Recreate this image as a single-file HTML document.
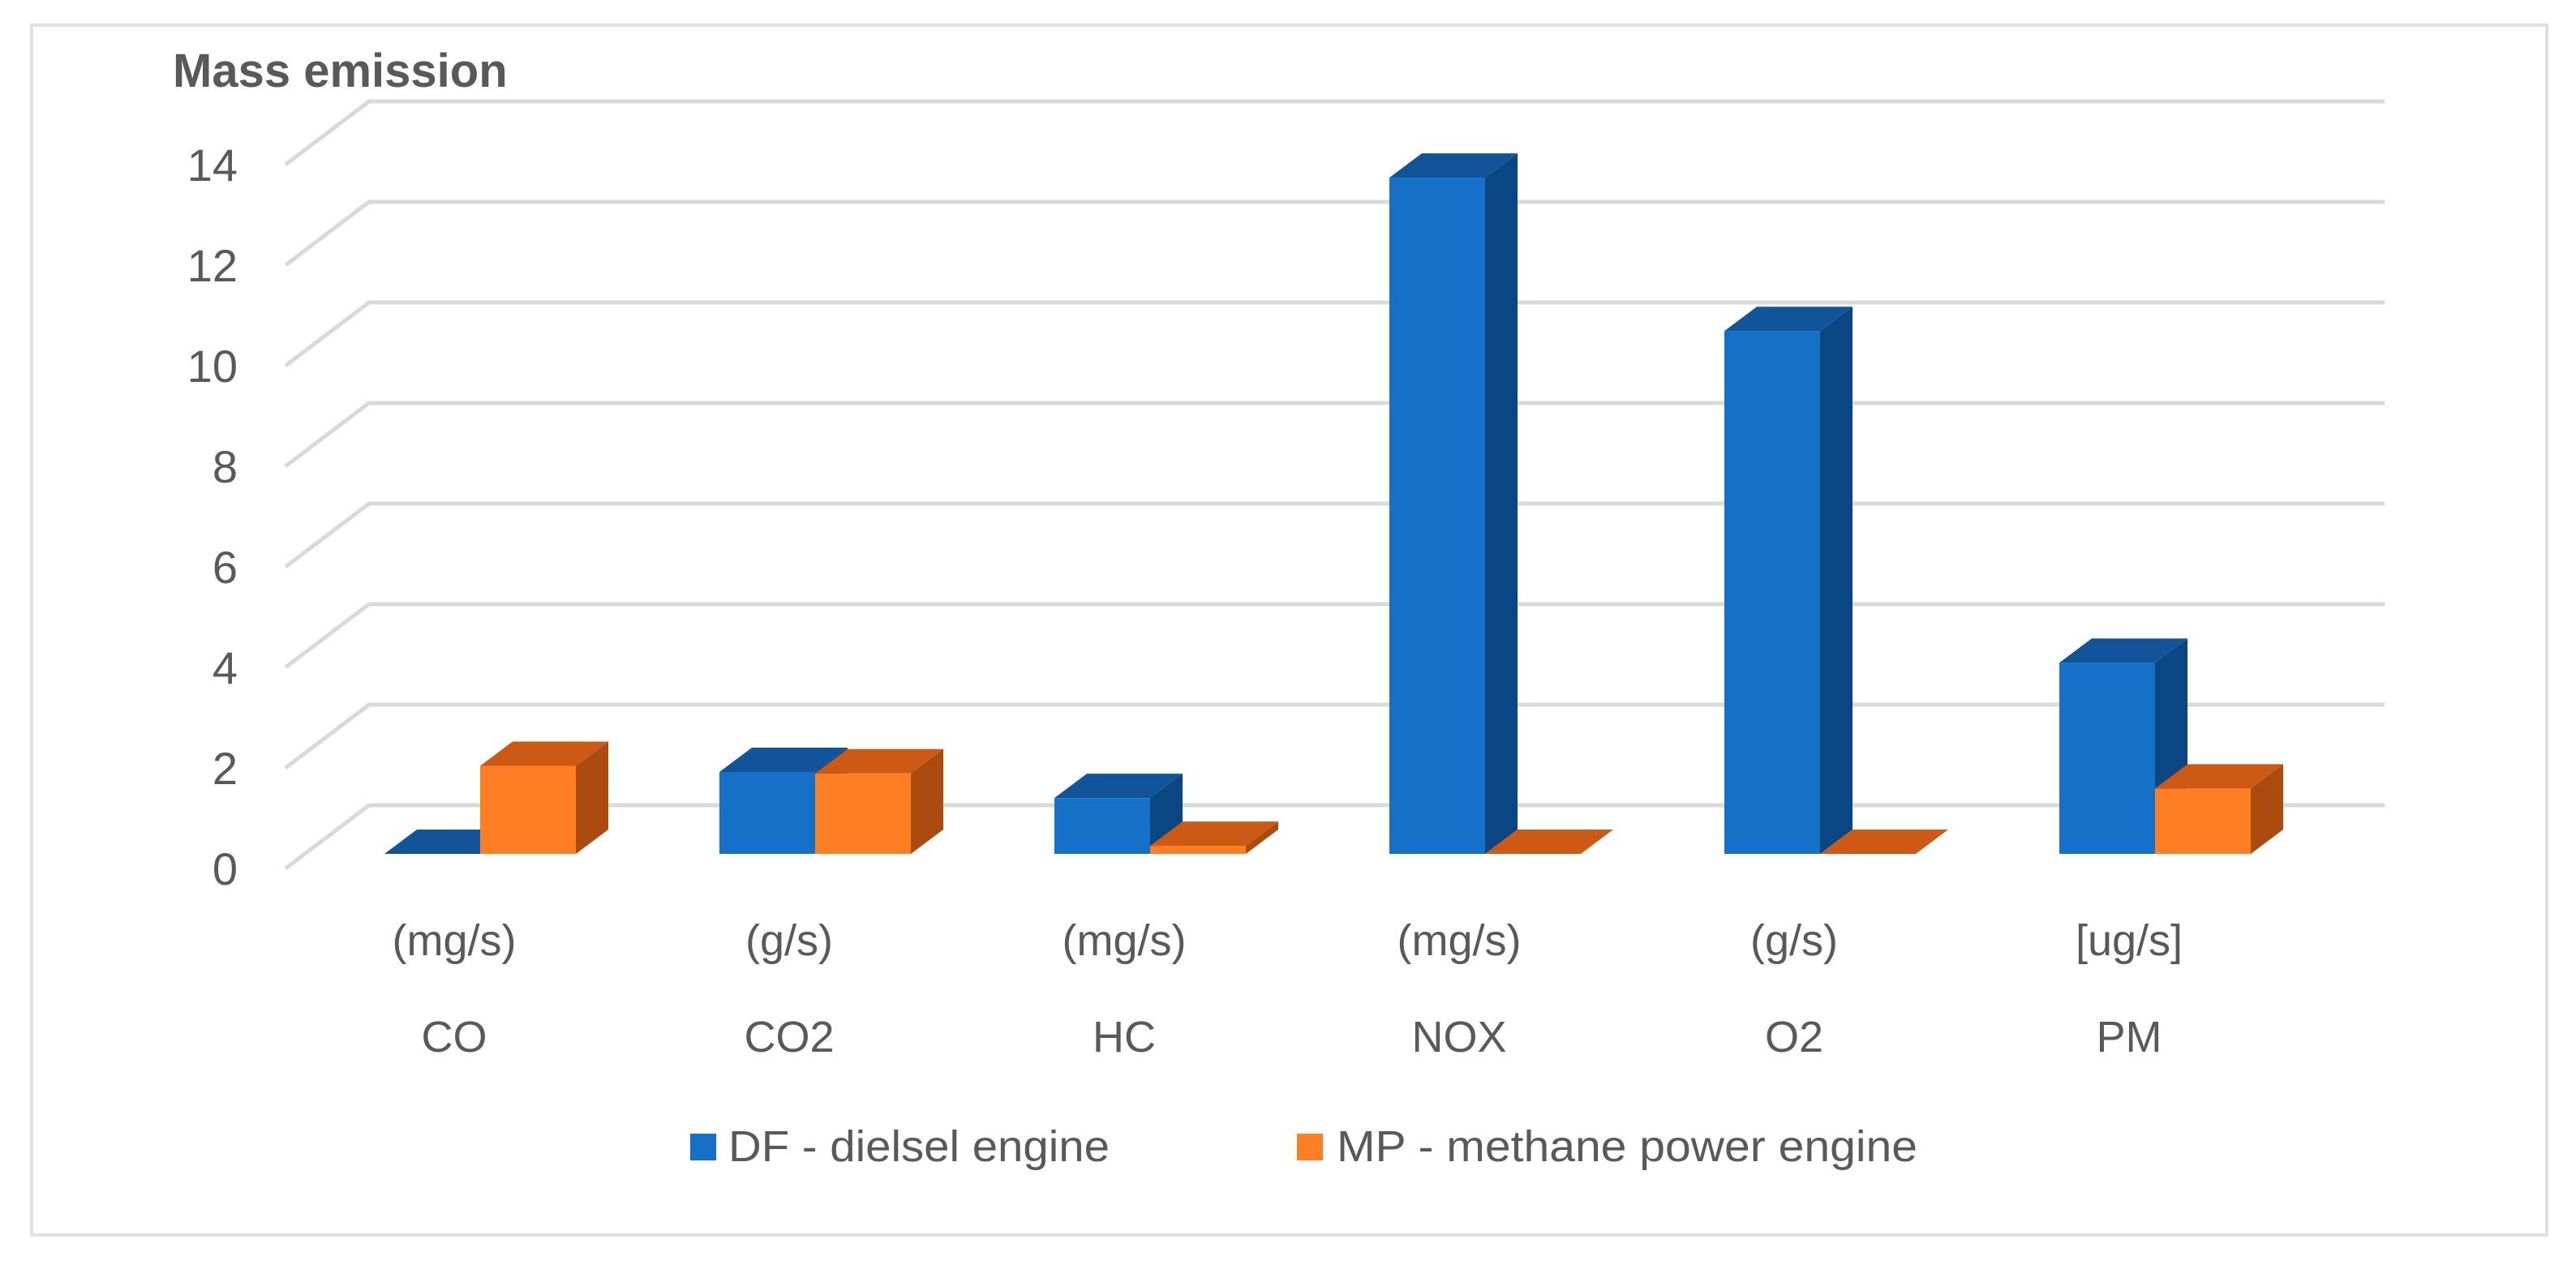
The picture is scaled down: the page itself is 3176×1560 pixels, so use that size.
<!DOCTYPE html>
<html><head><meta charset="utf-8"><style>
html,body{margin:0;padding:0;background:#fff;}
svg{display:block;font-family:"Liberation Sans",sans-serif;}
</style></head><body>
<svg id="chart" width="3176" height="1560" viewBox="0 0 3176 1560">
<rect x="39" y="31" width="3101" height="1492" fill="#fff" stroke="#e0e0e0" stroke-width="4"/>
<text x="213" y="107" font-size="58" font-weight="bold" fill="#595959">Mass emission</text>
<g id="grid"></g>
<g id="yticks"></g>
<g id="bars"></g>
<g id="xlabels"></g>
<g>
<g>
<rect x="851" y="1398" width="32" height="33" fill="#1570C8"/>
<text x="898" y="1432" font-size="54" fill="#595959" textLength="470" lengthAdjust="spacingAndGlyphs">DF - dielsel engine</text>
</g>
<g>
<rect x="1599" y="1398" width="32" height="33" fill="#FD7E23"/>
<text x="1648" y="1432" font-size="54" fill="#595959" textLength="716" lengthAdjust="spacingAndGlyphs">MP - methane power engine</text>
</g>
</g>
</svg>
<script>
const categories = ["CO","CO2","HC","NOX","O2","PM"];
const units = ["(mg/s)","(g/s)","(mg/s)","(mg/s)","(g/s)","[ug/s]"];
const dfValues = [0, 1.63, 1.11, 13.45, 10.4, 3.8];
const mpValues = [1.75, 1.6, 0.16, 0, 0, 1.3];
const yTicks = [0,2,4,6,8,10,12,14];

const NS = "http://www.w3.org/2000/svg";
const svgEl = document.getElementById("chart");
const unitPx = 62;
const backZeroY = 993, backLeft = 455, backRight = 2940;
const floorDx = -103, floorDy = 78;
const barBase = 1053, barW = 118, depthX = 40, depthY = 30;
const catStart = 474, catStep = 413;
function yBack(v){ return backZeroY - v*unitPx; }
function yBar(v){ return barBase - v*unitPx; }
function xCat(i){ return catStart + i*catStep; }
function mk(tag, attrs, parent){ const e=document.createElementNS(NS,tag); for(const k in attrs) e.setAttribute(k,attrs[k]); parent.appendChild(e); return e; }

const grid = document.getElementById("grid");
const yt = document.getElementById("yticks");
yTicks.forEach(v=>{
  const y = yBack(v);
  const g = mk("polyline",{points:`${backLeft+floorDx},${y+floorDy} ${backLeft},${y} ${backRight},${y}`,fill:"none",stroke:"#d9d9d9","stroke-width":5},grid);
  
  
  const t = mk("text",{x:293,y:y+floorDy+20,"font-size":56,fill:"#595959","text-anchor":"end"},yt);
  t.textContent = v;
  
  
});

const bars = document.getElementById("bars");
function drawBar(x, v, front, top, side, name){
  const g = mk("g",{},bars);
  
  
  const yt2 = yBar(v);
  mk("polygon",{points:`${x+barW},${yt2} ${x+barW+depthX},${yt2-depthY} ${x+barW+depthX},${barBase-depthY} ${x+barW},${barBase}`,fill:side},g);
  mk("rect",{x:x,y:yt2,width:barW,height:barBase-yt2,fill:front},g);
  mk("polygon",{points:`${x},${yt2} ${x+depthX},${yt2-depthY} ${x+barW+depthX},${yt2-depthY} ${x+barW},${yt2}`,fill:top},g);
}
categories.forEach((c,i)=>{
  const x = xCat(i);
  drawBar(x, dfValues[i], "#1570C8", "#11549A", "#0A4584", "bar-df-" + c.toLowerCase());
  drawBar(x+barW, mpValues[i], "#FD7E23", "#CC5A14", "#AC4B10", "bar-mp-" + c.toLowerCase());
});

const xl = document.getElementById("xlabels");
categories.forEach((c,i)=>{
  const cx = 560 + i*catStep;
  const u = mk("text",{x:cx,y:1178,"font-size":54,fill:"#595959","text-anchor":"middle"},xl);
  u.textContent = units[i];
  
  
  const t = mk("text",{x:cx,y:1297,"font-size":54,fill:"#595959","text-anchor":"middle"},xl);
  t.textContent = c;
  
  
});
</script>
</body></html>
